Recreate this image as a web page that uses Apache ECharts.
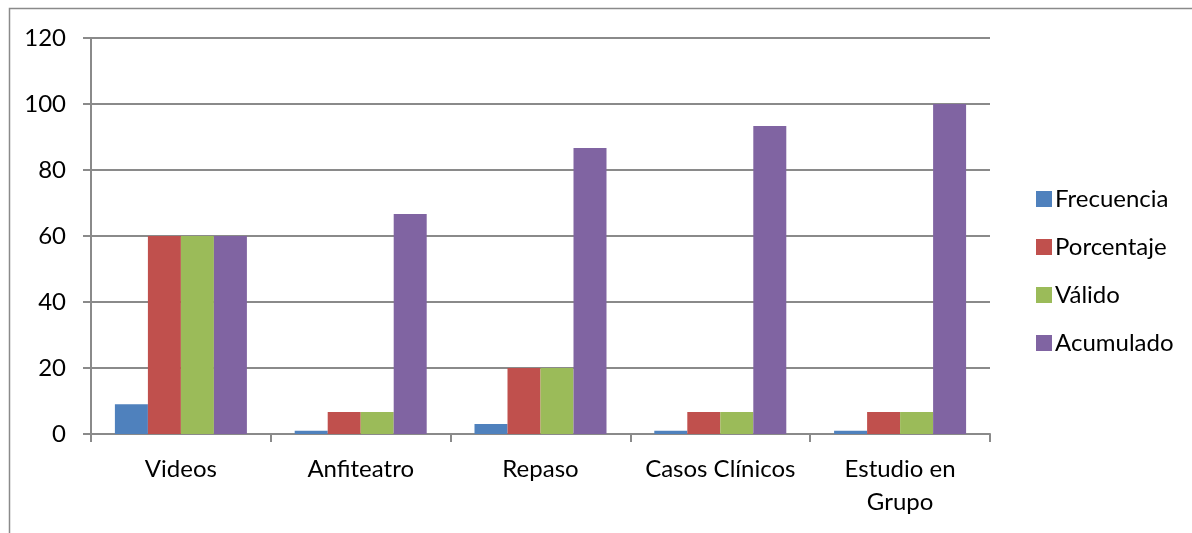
<!DOCTYPE html>
<html>
<head>
<meta charset="utf-8">
<script src="https://cdn.jsdelivr.net/npm/echarts@6/dist/echarts.min.js"></script>
<style>
  html, body { margin: 0; padding: 0; background: #fff; }
  #chart { width: 1192px; height: 533px; }
</style>
</head>
<body>
<div id="chart"></div>
<script>
// datos
var categorias = ['Videos', 'Anfiteatro', 'Repaso', 'Casos Clínicos', 'Estudio en\nGrupo'];
var frecuencia = [9, 1, 3, 1, 1];
var porcentaje = [60, 6.67, 20, 6.67, 6.67];
var valido = [60, 6.67, 20, 6.67, 6.67];
var acumulado = [60, 66.67, 86.67, 93.33, 100];
var yTicks = [0, 20, 40, 60, 80, 100, 120];

var gris = '#8a8a8a';
var fuente = 'Lato';

var myChart = echarts.init(document.getElementById('chart'));

function serie(nombre, datos, color) {
  return {
    name: nombre,
    type: 'bar',
    data: datos,
    barWidth: 33,
    barGap: '0%',
    itemStyle: { color: color }
  };
}

var option = {
  backgroundColor: '#fff',
  animation: false,
  textStyle: { fontFamily: fuente },
  graphic: [{
    type: 'rect',
    shape: { x: 9.5, y: 8.5, width: 1200, height: 600 },
    style: { fill: 'none', stroke: gris, lineWidth: 1.5 }
  }],
  grid: { left: 91, right: 202, top: 38, bottom: 99 },
  legend: {
    orient: 'vertical',
    left: 1031,
    top: 182,
    itemWidth: 16,
    itemHeight: 16,
    itemGap: 24,
    icon: 'rect',
    textStyle: { fontFamily: fuente, fontSize: 24, lineHeight: 24, color: '#000', padding: [0, 0, 0, -2] },
    data: ['Frecuencia', 'Porcentaje', 'Válido', 'Acumulado']
  },
  xAxis: {
    type: 'category',
    data: categorias,
    axisLine: { lineStyle: { color: gris, width: 2 } },
    axisTick: { show: true, length: 8, lineStyle: { color: gris, width: 2 } },
    axisLabel: { color: '#000', fontSize: 24, fontFamily: fuente, margin: 19, lineHeight: 33, interval: 0 }
  },
  yAxis: {
    type: 'value',
    min: yTicks[0],
    max: yTicks[yTicks.length - 1],
    interval: 20,
    axisLine: { show: true, lineStyle: { color: gris, width: 2 } },
    axisTick: { show: true, length: 8, lineStyle: { color: gris, width: 2 } },
    axisLabel: { color: '#000', fontSize: 24, fontFamily: fuente, margin: 25 },
    splitLine: { show: true, lineStyle: { color: gris, width: 2 } }
  },
  series: [
    serie('Frecuencia', frecuencia, '#4F81BD'),
    serie('Porcentaje', porcentaje, '#C0504D'),
    serie('Válido', valido, '#9BBB59'),
    serie('Acumulado', acumulado, '#8064A2')
  ]
};

myChart.setOption(option);
</script>
</body>
</html>
